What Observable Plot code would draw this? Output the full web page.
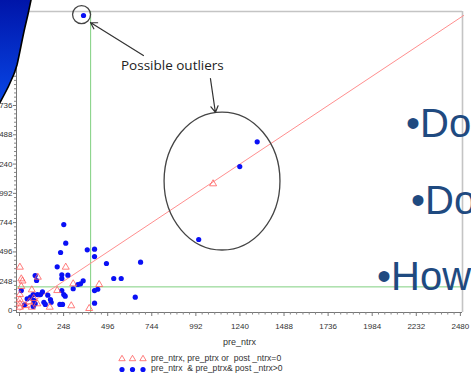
<!DOCTYPE html>
<html>
<head>
<meta charset="utf-8">
<script src="https://cdn.jsdelivr.net/npm/d3@7"></script>
<script src="https://cdn.jsdelivr.net/npm/@observablehq/plot@0.6"></script>
<style>
  html, body { margin: 0; padding: 0; background: #fff; }
  #wrap { position: relative; width: 471px; height: 383px; overflow: hidden; font-family: "Liberation Sans", Arial, sans-serif; }
  #chart svg { display: block; }
  #legend { position: absolute; left: 0; top: 354px; width: 471px; font-size: 8.6px; color: #333; }
  #overlay { position: absolute; left: 0; top: 0; pointer-events: none; }
</style>
</head>
<body>
<div id="wrap">
  <div id="chart"></div>
  <div id="legend"></div>
  <svg id="overlay" width="471" height="383"></svg>
</div>
<script>
// ---- data ----
const tickValues = [0, 248, 496, 744, 992, 1240, 1488, 1736, 1984, 2232, 2480];
const axisLabelX = "pre_ntrx";

// pre_ntrx & pre_ptrx & post_ntrx > 0 (blue dots)
const posX = [249, 260, 231, 381, 422, 422, 212, 489, 681, 238, 238, 272, 88, 96, 530, 572, 358, 343, 328, 302,
              440, 422, 238, 249, 257, 10, 129, 118, 100, 77, 62, 43, 159, 174, 178, 80, 88, 137, 145, 28,
              227, 242, 422, 651, 77, 360, 1337, 1239, 1008];
const posY = [728, 570, 491, 514, 519, 457, 370, 398, 409, 302, 271, 299, 296, 254, 271, 271, 251, 226, 220, 184,
              180, 169, 169, 135, 121, 169, 158, 135, 135, 135, 113, 99, 130, 93, 70, 85, 57, 70, 51, 48,
              51, 51, 62, 113, 34, 2498, 1428, 1219, 601];

// pre_ntrx, pre_ptrx or post_ntrx = 0 (red open triangles)
const zeroX = [2, 10, 10, 260, 103, 69, 212, 302, 448, 2, 2, 2, 2, 80, 100, 69, 170, 291, 392, 55, 32, 1089, 17];
const zeroY = [367, 268, 203, 367, 282, 175, 169, 226, 220, 135, 91, 57, 28, 102, 57, 28, 28, 40, 17, 74, 42, 1073, 250];

// reference lines
const cutX = [400];
const cutY = [200];
const diagonal = [0, 2500];

// annotations (data units)
const noteText = ["Possible outliers"];
const noteX = [860];
const noteY = [2075];
const arrowFrom = [[697, 2159], [1074, 1964]];
const arrowTo = [[399, 2439], [1102, 1677]];
const ringX = [349];
const ringY = [2506];
const ellipseCenter = [1142, 1092];
const ellipseRadii = [326, 584];

// legend
const legendLabels = ["pre_ntrx, pre_ptrx or  post _ntrx=0", "pre_ntrx  & pre_ptrx& post _ntrx>0"];

// slide decorations
const slideLines = ["\u2022Do", "\u2022Do", "\u2022How"];

// ---- build tables ----
const pos = posX.map((x, i) => ({x, y: posY[i]}));
const zero = zeroX.map((x, i) => ({x, y: zeroY[i]}));
const arrows = arrowFrom.map((f, i) => ({x1: f[0], y1: f[1], x2: arrowTo[i][0], y2: arrowTo[i][1]}));
const minor = [];
for (let i = 0; i < tickValues.length - 1; i++) {
  const step = (tickValues[i + 1] - tickValues[i]) / 7;
  for (let k = 1; k < 7; k++) minor.push(tickValues[i] + k * step);
}
const xDom = [-17, 2492], yDom = [-17, 2532];
const plain = d => String(d);

const ellipseMark = (index, scales) => {
  const ns = "http://www.w3.org/2000/svg";
  const g = document.createElementNS(ns, "g");
  const e = document.createElementNS(ns, "ellipse");
  const cx = scales.x(ellipseCenter[0]), cy = scales.y(ellipseCenter[1]);
  e.setAttribute("cx", cx);
  e.setAttribute("cy", cy);
  e.setAttribute("rx", Math.abs(scales.x(ellipseCenter[0] + ellipseRadii[0]) - cx));
  e.setAttribute("ry", Math.abs(scales.y(ellipseCenter[1] + ellipseRadii[1]) - cy));
  e.setAttribute("fill", "none");
  e.setAttribute("stroke", "#444");
  e.setAttribute("stroke-width", "1.3");
  g.appendChild(e);
  return g;
};

const plot = Plot.plot({
  width: 471,
  height: 352,
  marginLeft: 16,
  marginRight: 9,
  marginTop: 11,
  marginBottom: 40,
  x: {domain: xDom},
  y: {domain: yDom},
  style: {fontFamily: "Liberation Sans, Arial, sans-serif", fontSize: "8px", color: "#333", background: "transparent"},
  marks: [
    // frame
    Plot.ruleY([yDom[1]], {stroke: "#c4c4c4", strokeWidth: 1.6}),
    Plot.ruleX([xDom[1]], {stroke: "#c4c4c4", strokeWidth: 1.6}),
    Plot.ruleX([xDom[0]], {stroke: "#777", strokeWidth: 1}),
    Plot.ruleY([yDom[0]], {stroke: "#777", strokeWidth: 1}),
    // axes
    Plot.axisX({ticks: tickValues, tickFormat: plain, tickSize: 4, tickPadding: 7, label: null, stroke: "#777", fill: "#333", fontSize: 8}),
    Plot.axisX({ticks: minor, tickSize: 2.5, tickFormat: () => "", label: null, stroke: "#888"}),
    Plot.axisY({ticks: tickValues, tickFormat: plain, tickSize: 3, tickPadding: 1, label: null, stroke: "#777", fill: "#333", fontSize: 8}),
    Plot.axisY({ticks: minor, tickSize: 2, tickFormat: () => "", label: null, stroke: "#888"}),
    Plot.text([axisLabelX], {frameAnchor: "bottom", dy: 32, text: d => d, fontSize: 9, fill: "#333"}),
    // reference lines
    Plot.ruleX(cutX, {stroke: "#7fcf7f", strokeWidth: 1}),
    Plot.ruleY(cutY, {stroke: "#7fcf7f", strokeWidth: 1}),
    Plot.link([diagonal], {x1: d => d[0], y1: d => d[0], x2: d => d[1], y2: d => d[1], stroke: "#ff8f8f", strokeWidth: 1}),
    // data
    Plot.dot(pos, {x: "x", y: "y", r: 2.6, fill: "#0a10f5"}),
    Plot.dot(zero, {x: "x", y: "y", symbol: "triangle", r: 2.6, stroke: "#ff5c5c", strokeWidth: 0.8, fill: "none"}),
    // annotations
    Plot.dot(ringX.map((x, i) => ({x, y: ringY[i]})), {x: "x", y: "y", r: 9, stroke: "#444", strokeWidth: 1.3, fill: "none"}),
    ellipseMark,
    Plot.arrow(arrows, {x1: "x1", y1: "y1", x2: "x2", y2: "y2", stroke: "#333", strokeWidth: 1.2, headLength: 9, insetStart: 0, insetEnd: 0}),
    Plot.text(noteText, {x: noteX, y: noteY, text: d => d, fontSize: 13.5, fill: "#222", fontFamily: "Open Sans, Liberation Sans, sans-serif"})
  ]
});
document.getElementById("chart").appendChild(plot);

// legend (HTML + inline swatches)
const legend = document.getElementById("legend");
const symbols = [
  x => `<path d="M${x},-3.2 L${x + 3.2},2.2 L${x - 3.2},2.2 Z" fill="none" stroke="#ff5c5c" stroke-width="0.8"/>`,
  x => `<circle cx="${x}" cy="0" r="2.6" fill="#0a10f5"/>`
];
legendLabels.forEach((lab, i) => {
  const row = document.createElement("div");
  row.style.cssText = "position:absolute;left:116px;top:" + (i * 9.5) + "px;height:10px;white-space:pre;";
  row.innerHTML = `<svg width="34" height="10" style="position:absolute;left:0;top:0;overflow:visible"><g transform="translate(0,${i === 0 ? 4.5 : 5.5})">${[6, 16.5, 27].map(symbols[i]).join("")}</g></svg>` +
    `<span style="position:absolute;left:35px;top:${i === 0 ? -1.5 : -0.5}px;line-height:10px">${lab}</span>`;
  legend.appendChild(row);
});

// slide decorations over the chart
const ov = d3.select("#overlay");
const defs = ov.append("defs");
const grad = defs.append("linearGradient").attr("id", "sw").attr("x1", 0).attr("y1", 0).attr("x2", 0).attr("y2", 1);
grad.append("stop").attr("offset", "0%").attr("stop-color", "#0014a8");
grad.append("stop").attr("offset", "100%").attr("stop-color", "#0848e8");
ov.append("path")
  .attr("d", "M-2,-2 L31,-2 L31,0 C29,10 27,19 25,27 C22,40 20,52 17,65 C15,72 12.5,78 10,83 C7,90 3.5,96 -2,106 Z")
  .attr("fill", "url(#sw)")
  .attr("stroke", "#000")
  .attr("stroke-width", 1.6);
const slidePos = [[406, 137], [411, 214], [377, 290]];
ov.selectAll("text.slide").data(slideLines).join("text")
  .attr("class", "slide")
  .attr("x", (d, i) => slidePos[i][0])
  .attr("y", (d, i) => slidePos[i][1])
  .attr("font-family", "Liberation Sans, Arial, sans-serif")
  .attr("font-size", 40)
  .attr("fill", "#1f4a80")
  .text(d => d);
</script>
</body>
</html>
